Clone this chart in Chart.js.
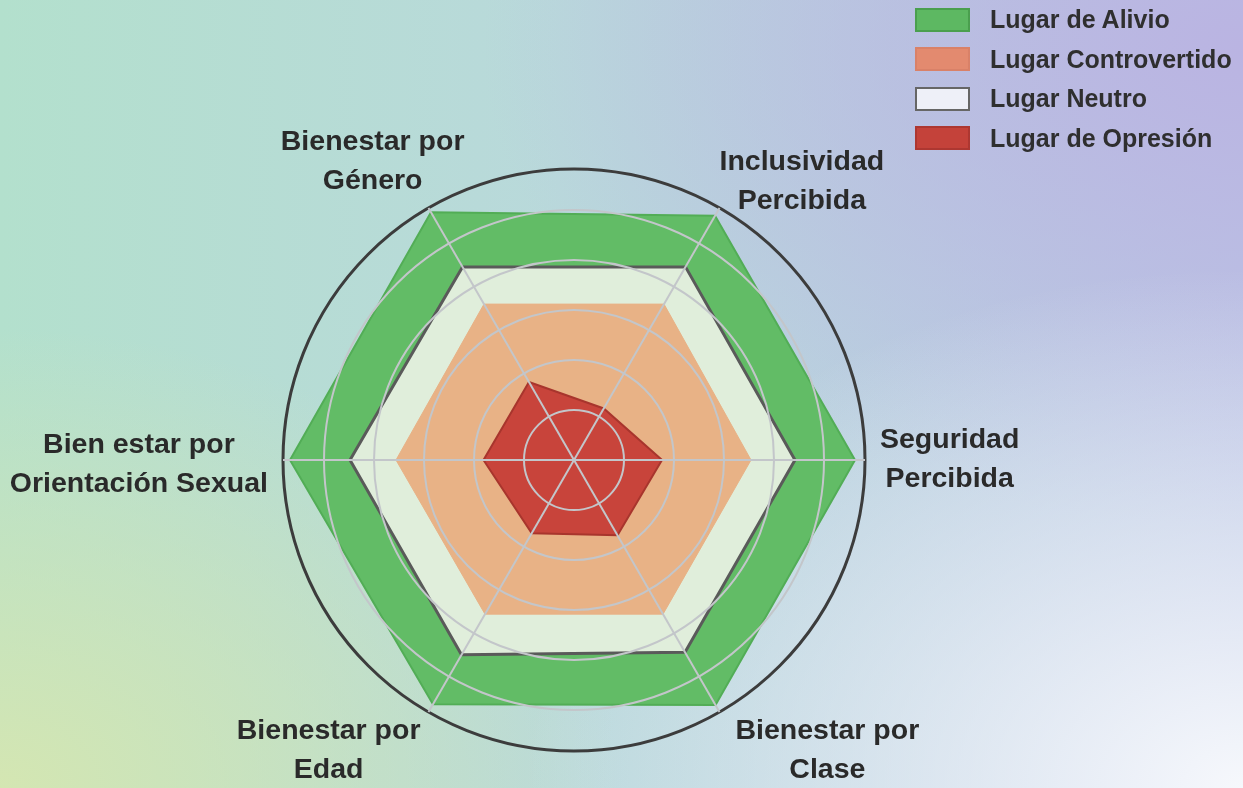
<!DOCTYPE html>
<html lang="es">
<head>
<meta charset="utf-8">
<title>Lugares de alivio y opresión</title>
<script src="https://cdn.jsdelivr.net/npm/chart.js@4.4.1/dist/chart.umd.min.js"></script>
<style>
  html, body { margin: 0; padding: 0; }
  body {
    width: 1243px;
    height: 788px;
    overflow: hidden;
    font-family: "Liberation Sans", Arial, sans-serif;
    background:
      radial-gradient(ellipse 720px 520px at 100% 100%, rgba(246,248,252,1), rgba(246,248,252,0)),
      radial-gradient(ellipse 620px 460px at 0% 100%, rgba(212,230,178,1), rgba(212,230,178,0)),
      radial-gradient(ellipse 760px 480px at 100% 6%, rgba(186,180,226,1), rgba(186,180,226,0)),
      linear-gradient(90deg, #b3e0cd 0%, #b9d9db 45%, #bac6e4 100%);
  }
  #wrap { position: relative; width: 1243px; height: 788px; }
  #legend {
    position: absolute;
    left: 915px;
    top: 0;
    margin: 0;
    padding: 0;
    list-style: none;
  }
  #legend li {
    display: flex;
    align-items: center;
    height: 39.5px;
  }
  #legend .swatch {
    width: 51px;
    height: 20px;
    border: 2px solid;
    margin-right: 20px;
  }
  #legend .name {
    font-weight: bold;
    font-size: 25px;
    color: #2f2f2f;
  }
</style>
</head>
<body>
<div id="wrap">
  <canvas id="radarChart"></canvas>
  <ul id="legend"></ul>
</div>
<script>
// categories, clockwise from the right-hand axis
const categories = [
  ["Seguridad", "Percibida"],
  ["Bienestar por", "Clase"],
  ["Bienestar por", "Edad"],
  ["Bien estar por", "Orientación Sexual"],
  ["Bienestar por", "Género"],
  ["Inclusividad", "Percibida"]
];

const seriesNames = ["Lugar de Alivio", "Lugar Controvertido", "Lugar Neutro", "Lugar de Opresión"];

const alivio        = [5.62, 5.66, 5.64, 5.68, 5.72, 5.64];
const controvertido = [3.54, 3.56, 3.56, 3.56, 3.60, 3.60];
const neutro        = [4.42, 4.44, 4.50, 4.48, 4.46, 4.46];
const opresion      = [1.76, 1.74, 1.69, 1.81, 1.80, 1.19];

// rings of the grid and the outer (dark) circle
const gridSteps = [1, 2, 3, 4, 5];
const scaleMax = 5.82;

// small hand nudges for the axis labels (px), same order as categories
const labelNudge = [[0, 0], [16, 0], [-8, 0], [0, 5], [36, -7], [0, 13]];
const LINE_H = 39;

// axis labels drawn as centred two-line blocks outside the circle
const outerLabels = {
  id: "outerLabels",
  afterDraw(chart) {
    const scale = chart.scales.r;
    const ctx = chart.ctx;
    ctx.save();
    ctx.font = 'bold 28.5px "Liberation Sans", Arial, sans-serif';
    ctx.fillStyle = "#2a2a2a";
    ctx.textAlign = "center";
    ctx.textBaseline = "middle";
    chart.data.labels.forEach((lines, i) => {
      const angle = scale.getIndexAngle(i) - Math.PI / 2;
      const cos = Math.cos(angle);
      const sin = Math.sin(angle);
      const side = Math.abs(sin) < 0.01;
      const p = scale.getPointPosition(i, scale.drawingArea + (side ? 15 : 0));
      const w = Math.max(...lines.map(l => ctx.measureText(l).width));
      const h = lines.length * LINE_H;
      let cx = Math.abs(cos) < 0.01 ? p.x : p.x + Math.sign(cos) * w / 2;
      let top;
      if (side) top = p.y - h / 2;
      else if (sin < 0) top = p.y - h;
      else top = p.y;
      cx += labelNudge[i][0];
      top += labelNudge[i][1];
      lines.forEach((l, k) => ctx.fillText(l, cx, top + LINE_H * (k + 0.5)));
    });
    ctx.restore();
  }
};

const ctx = document.getElementById("radarChart").getContext("2d");

const chart = new Chart(ctx, {
  type: "radar",
  data: {
    labels: categories,
    datasets: [
      {
        label: seriesNames[0],
        data: alivio,
        backgroundColor: "#62bc66",
        borderColor: "#52ad56",
        borderWidth: 2,
        legendColor: "#5db862",
        legendBorder: "#4a9f4e",
        fill: "origin",
        order: 4
      },
      {
        label: seriesNames[1],
        data: controvertido,
        backgroundColor: "#e8b286",
        borderColor: "#e8b286",
        borderWidth: 1,
        legendColor: "#e38a6f",
        legendBorder: "#d98168",
        fill: "origin",
        order: 2
      },
      {
        label: seriesNames[2],
        data: neutro,
        backgroundColor: "#e0eedb",
        borderColor: "#5a5a5a",
        borderWidth: 3,
        legendColor: "#eef0f8",
        legendBorder: "#666666",
        fill: "origin",
        order: 3
      },
      {
        label: seriesNames[3],
        data: opresion,
        backgroundColor: "#c8443b",
        borderColor: "#a8352d",
        borderWidth: 2,
        legendColor: "#c4423a",
        legendBorder: "#ad3731",
        fill: "origin",
        order: 1
      }
    ]
  },
  options: {
    responsive: true,
    maintainAspectRatio: false,
    animation: false,
    layout: {
      padding: { left: 283, right: 378, top: 169, bottom: 37 }
    },
    elements: {
      point: { radius: 0, hoverRadius: 0 },
      line: { tension: 0 }
    },
    plugins: {
      legend: { display: false },
      tooltip: { enabled: false }
    },
    scales: {
      r: {
        min: 0,
        max: scaleMax,
        startAngle: 90,
        afterBuildTicks: (scale) => {
          scale.ticks = [0, ...gridSteps, scaleMax].map(v => ({ value: v }));
        },
        ticks: { display: false },
        pointLabels: { display: false },
        grid: {
          z: 1,
          circular: true,
          color: (c) => c.tick && c.tick.value === scaleMax ? "#3c3c3c" : "#c3c6ca",
          lineWidth: (c) => c.tick && c.tick.value === scaleMax ? 3 : 2
        },
        angleLines: { color: "#c3c6ca", lineWidth: 2 }
      }
    }
  },
  plugins: [outerLabels]
});

// html legend, built from the chart's datasets
const legendEl = document.getElementById("legend");
chart.data.datasets.forEach((ds) => {
  const li = document.createElement("li");
  const box = document.createElement("span");
  box.className = "swatch";
  box.style.background = ds.legendColor;
  box.style.borderColor = ds.legendBorder;
  const name = document.createElement("span");
  name.className = "name";
  name.textContent = ds.label;
  li.appendChild(box);
  li.appendChild(name);
  legendEl.appendChild(li);
});
</script>
</body>
</html>
